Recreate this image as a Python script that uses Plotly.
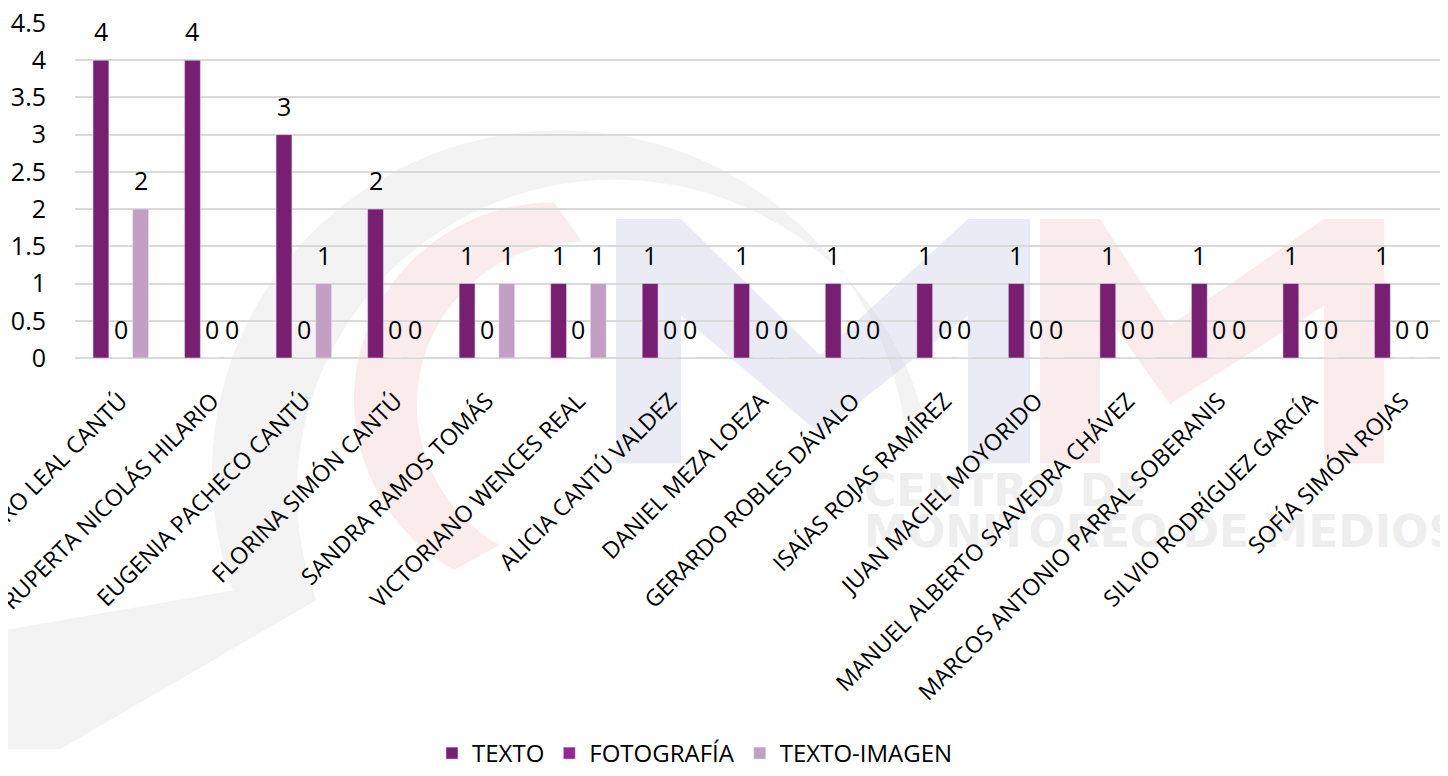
import numpy as np
import plotly.graph_objects as go

categories = [
    "PEDRO LEAL CANTÚ",
    "RUPERTA NICOLÁS HILARIO",
    "EUGENIA PACHECO CANTÚ",
    "FLORINA SIMÓN CANTÚ",
    "SANDRA RAMOS TOMÁS",
    "VICTORIANO WENCES REAL",
    "ALICIA CANTÚ VALDEZ",
    "DANIEL MEZA LOEZA",
    "GERARDO ROBLES DÁVALO",
    "ISAÍAS ROJAS RAMÍREZ",
    "JUAN MACIEL MOYORIDO",
    "MANUEL ALBERTO SAAVEDRA CHÁVEZ",
    "MARCOS ANTONIO PARRAL SOBERANIS",
    "SILVIO RODRÍGUEZ GARCÍA",
    "SOFÍA SIMÓN ROJAS",
]
texto = [4, 4, 3, 2, 1, 1, 1, 1, 1, 1, 1, 1, 1, 1, 1]
fotografia = [0, 0, 0, 0, 0, 0, 0, 0, 0, 0, 0, 0, 0, 0, 0]
texto_imagen = [2, 0, 1, 0, 1, 1, 0, 0, 0, 0, 0, 0, 0, 0, 0]
y_ticks = [0, 0.5, 1, 1.5, 2, 2.5, 3, 3.5, 4, 4.5]

FONT = "Open Sans"
FS = 23        # category labels
FS_LEG = 24    # legend
FS_NUM = 25    # numbers (y ticks, data labels)
OFF = 8        # page body margin offset
W, H = 1448 - OFF, 776 - OFF
ML, MR, MT = 75 - OFF, 0, 23 - OFF
MB = H - (363 - OFF)
BARGAP, GROUPGAP = 0.35, 0.2

series = [
    ("TEXTO", texto, "#781F72"),
    ("FOTOGRAFÍA", fotografia, "#93278F"),
    ("TEXTO-IMAGEN", texto_imagen, "#C3A0C3"),
]

fig = go.Figure()
for name, vals, color in series:
    fig.add_trace(go.Bar(x=categories, y=vals, name=name, marker_color=color,
                         hoverinfo="x+y+name"))

plot_w = W - ML - MR
plot_h = H - MT - MB
cat_w = plot_w / len(categories)
slot = cat_w * (1 - BARGAP) / len(series)
for i, (name, vals, color) in enumerate(series):
    dx = (i - (len(series) - 1) / 2) * slot
    for c, v in zip(categories, vals):
        fig.add_annotation(x=c, y=v, xref="x", yref="y", text=str(v), showarrow=False,
                           xshift=dx, yshift=10, yanchor="bottom",
                           font=dict(family=FONT, size=FS_NUM, color="#000000"))

# faint background watermark (logo); coordinates are page pixels of the picture
def to_paper(pts):
    return [((px - OFF - ML) / plot_w, (H - MB - (py - OFF)) / plot_h) for px, py in pts]

def path_of(pts):
    pp = to_paper(pts)
    return "M " + " L ".join(f"{x:.4f},{y:.4f}" for x, y in pp) + " Z"

def arc(cx, cy, r, a0, a1, n=80):
    a = np.radians(np.linspace(a0, a1, n))
    return [(cx + r * np.cos(t), cy - r * np.sin(t)) for t in a]

GRAY = "rgba(232,232,232,0.5)"
RED = "rgba(242,200,200,0.35)"
BLUE = "rgba(210,210,232,0.45)"
wm = []
wm.append((arc(560, 480, 348, 8, 200) + arc(615, 500, 318, 200, 12), GRAY))
wm.append(([(233, 599), (316, 609), (60, 760), (0, 760), (0, 640)], GRAY))
wm.append((arc(554, 405, 200, 90, 240) + arc(582, 410, 165, 240, 90), RED))
wm.append(([(616, 222), (681, 222), (820, 360), (968, 222), (1030, 222), (1030, 470),
            (968, 470), (968, 320), (820, 440), (681, 320), (681, 470), (616, 470)], BLUE))
wm.append(([(1040, 222), (1100, 222), (1170, 330), (1324, 222), (1384, 222), (1384, 470),
            (1324, 470), (1324, 310), (1170, 410), (1100, 310), (1100, 470), (1040, 470)], RED))

shapes = [dict(type="path", xref="paper", yref="paper", path=path_of(p), fillcolor=c,
               line=dict(width=0), layer="below") for p, c in wm]
for txt, y0, y1 in [("CENTRO DE", 476, 512), ("MONITOREO DE MEDIOS", 518, 554)]:
    (x0p, y0p), (x1p, y1p) = to_paper([(858, y1), (1448, y0)])
    shapes.append(dict(type="rect", xref="paper", yref="paper", x0=x0p, x1=x1p, y0=y0p, y1=y1p,
                       line=dict(width=0), fillcolor="rgba(0,0,0,0)", layer="below",
                       label=dict(text=txt, textposition="middle left",
                                  font=dict(family="DejaVu Sans", size=44, weight="bold",
                                            color="rgba(222,222,222,0.5)"))))

(lx, ly), = to_paper([(695, 765)])
fig.update_layout(
    width=W, height=H,
    margin=dict(l=ML, r=MR, t=MT, b=MB),
    paper_bgcolor="white", plot_bgcolor="rgba(0,0,0,0)",
    barmode="group", bargap=BARGAP, bargroupgap=GROUPGAP,
    font=dict(family=FONT, size=FS, color="#000000"),
    showlegend=True,
    legend=dict(orientation="h", x=lx, y=ly, xanchor="center", yanchor="middle",
                font=dict(family=FONT, size=FS_LEG), itemwidth=30, traceorder="normal"),
    shapes=shapes,
)
fig.update_xaxes(tickangle=-45, automargin=False, showgrid=False, showline=False,
                 ticks="", tickfont=dict(family=FONT, size=FS), ticklabelstandoff=24)
fig.update_yaxes(range=[0, 4.5], tickvals=y_ticks, ticktext=[f"{v:g}" for v in y_ticks],
                 showgrid=True, gridcolor="#D9D9D9", gridwidth=2, zeroline=True,
                 zerolinecolor="#D9D9D9", zerolinewidth=2, automargin=False,
                 ticklabeloverflow="allow",
                 ticks="", tickfont=dict(family=FONT, size=FS_NUM), ticklabelstandoff=28)

fig.write_html("out.html")
